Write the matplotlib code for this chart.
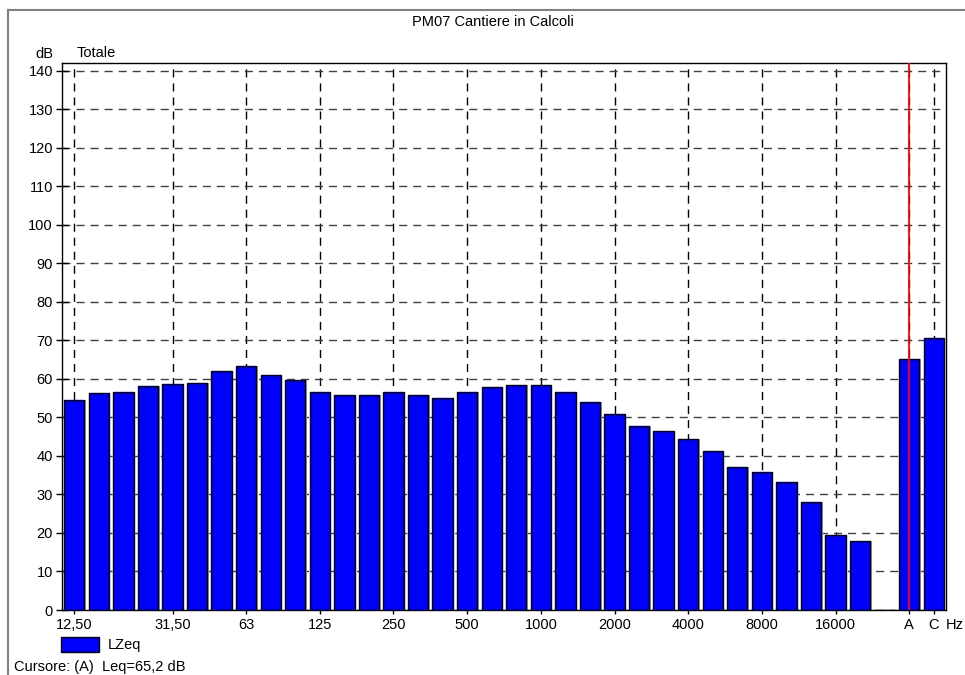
import matplotlib
matplotlib.use('Agg')
import matplotlib.pyplot as plt
from matplotlib.patches import Rectangle
from matplotlib.lines import Line2D
import matplotlib.transforms as mtransforms

##########
# data   #
##########
bands = ['12,50', '16', '20', '25', '31,50', '40', '50', '63', '80', '100',
         '125', '160', '200', '250', '315', '400', '500', '630', '800', '1000',
         '1250', '1600', '2000', '2500', '3150', '4000', '5000', '6300', '8000',
         '10000', '12500', '16000', '20000', '', 'A', 'C']
lzeq = [54.5, 56.3, 56.6, 58.2, 58.6, 58.8, 62.1, 63.3, 60.9, 59.7,
        56.6, 55.7, 55.8, 56.6, 55.8, 55.1, 56.6, 57.9, 58.3, 58.5,
        56.7, 54.0, 50.8, 47.8, 46.4, 44.4, 41.2, 37.2, 35.7,
        33.1, 28.1, 19.5, 17.9, 0.0, 65.2, 70.7]
labelled = ['12,50', '31,50', '63', '125', '250', '500', '1000', '2000',
            '4000', '8000', '16000', 'A', 'C']
y_ticks = [0, 10, 20, 30, 40, 50, 60, 70, 80, 90, 100, 110, 120, 130, 140]
cursor_band = 'A'
title = 'PM07 Cantiere in Calcoli'

####################
# plotting options #
####################
plt.rcParams['font.family'] = ['Liberation Sans', 'DejaVu Sans']
fs = 10.5
W, H = 965, 675

fig = plt.figure(figsize=(W / 100, H / 100), dpi=100)
ax = fig.add_axes([62 / W, 1 - 610 / H, (946 - 62) / W, (610 - 63) / H])

x = list(range(len(bands)))
# grey drop shadow then the bars
ax.bar([i + 0.06 for i in x], lzeq, width=0.83, color='#a0a0a0', linewidth=0, zorder=2)
ax.bar(x, lzeq, width=0.83, color='#0000ff', edgecolor='black', linewidth=1, zorder=3)

ax.set_xlim(-0.5, len(bands) - 0.5)
ax.set_ylim(0, 142)
ax.set_yticks(y_ticks)
ax.set_yticklabels([str(v) for v in y_ticks], fontsize=fs)
ticks = [bands.index(l) for l in labelled]
ax.set_xticks(ticks)
ax.set_xticklabels(labelled, fontsize=fs)
ax.tick_params(axis='y', direction='inout', length=9, width=1, pad=2)
ax.tick_params(axis='x', direction='inout', length=6, width=1, pad=3)

ax.set_axisbelow(True)
ax.yaxis.grid(True, color='#404040', linestyle=(0, (5.8, 4.3)), linewidth=1)
ax.xaxis.grid(True, color='black', linestyle=(0, (5.8, 4.3)), linewidth=1)
for s in ax.spines.values():
    s.set_linewidth(1)
    s.set_color('black')

# cursor line
ci = bands.index(cursor_band)
ax.axvline(ci, color='#ff0000', linewidth=1.3, zorder=6)

trans = mtransforms.blended_transform_factory(ax.transData, ax.transAxes)
fig.text(964 / W, 1 - 625 / H, 'Hz', ha='right', va='center', fontsize=fs)

# texts around the plot
fig.text(493 / W, 1 - 22 / H, title, ha='center', va='center', fontsize=fs)
fig.text(44 / W, 1 - 54 / H, 'dB', ha='center', va='center', fontsize=fs)
fig.text(77 / W, 1 - 53 / H, 'Totale', ha='left', va='center', fontsize=fs)

# legend
fig.add_artist(Rectangle((61 / W, 1 - 652 / H), 38 / W, 15 / H, transform=fig.transFigure,
                         facecolor='#0000ff', edgecolor='black', linewidth=1))
fig.text(108 / W, 1 - 645 / H, 'LZeq', ha='left', va='center', fontsize=fs)
fig.text(14 / W, 1 - 667 / H,
         'Cursore: (%s)  Leq=%s dB' % (cursor_band, format(lzeq[ci], '.1f').replace('.', ',')),
         ha='left', va='center', fontsize=fs)

# outer frame
fig.add_artist(Line2D([8 / W, 8 / W], [0, 1 - 10 / H], transform=fig.transFigure,
                      color='#808080', linewidth=1.5))
fig.add_artist(Line2D([8 / W, 1], [1 - 10 / H, 1 - 10 / H], transform=fig.transFigure,
                      color='#808080', linewidth=1.5))

plt.savefig('out.png', dpi=100)
plt.close('all')
